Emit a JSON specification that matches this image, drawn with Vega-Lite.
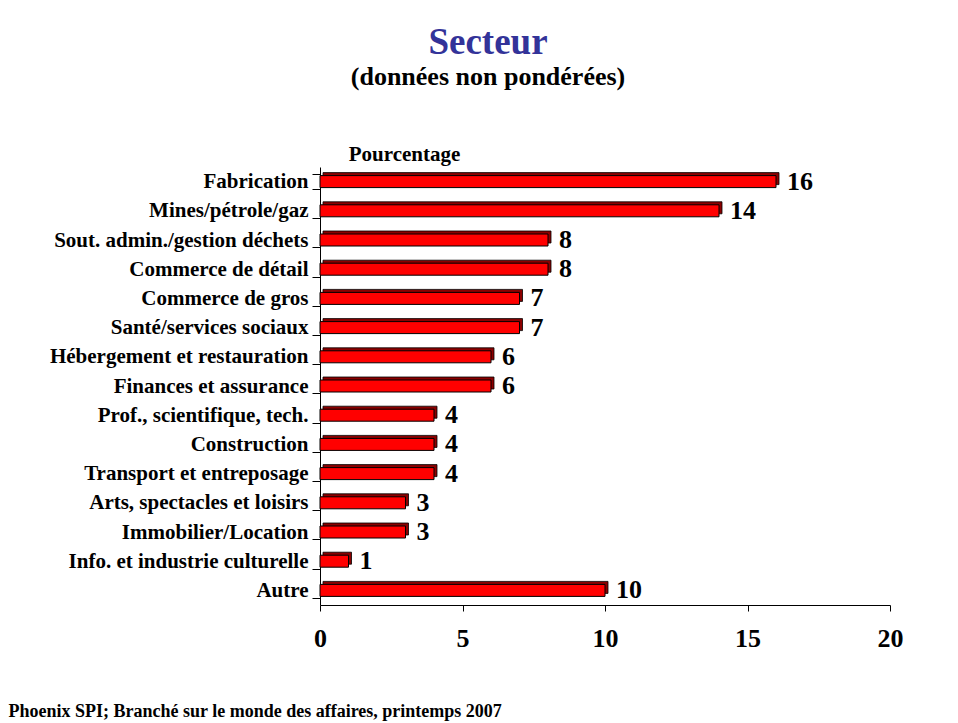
{
  "$schema": "https://vega.github.io/schema/vega-lite/v6.json",
  "width": 570,
  "height": 438,
  "autosize": "none",
  "padding": {"left": 320, "top": 167, "right": 68, "bottom": 118},
  "background": "white",
  "title": {
    "text": "Secteur",
    "subtitle": "(données non pondérées)",
    "font": "Liberation Serif",
    "fontSize": 37,
    "fontWeight": "bold",
    "color": "#333399",
    "subtitleFont": "Liberation Serif",
    "subtitleFontSize": 26,
    "subtitleFontWeight": "bold",
    "subtitleColor": "black",
    "subtitlePadding": 2,
    "anchor": "middle",
    "frame": "group",
    "dx": -117,
    "offset": 52
  },
  "config": {"view": {"stroke": null}},
  "data": {
    "values": [
      {"secteur": "Fabrication", "pct": 16},
      {"secteur": "Mines/pétrole/gaz", "pct": 14},
      {"secteur": "Sout. admin./gestion déchets", "pct": 8},
      {"secteur": "Commerce de détail", "pct": 8},
      {"secteur": "Commerce de gros", "pct": 7},
      {"secteur": "Santé/services sociaux", "pct": 7},
      {"secteur": "Hébergement et restauration", "pct": 6},
      {"secteur": "Finances et assurance", "pct": 6},
      {"secteur": "Prof., scientifique, tech.", "pct": 4},
      {"secteur": "Construction", "pct": 4},
      {"secteur": "Transport et entreposage", "pct": 4},
      {"secteur": "Arts, spectacles et loisirs", "pct": 3},
      {"secteur": "Immobilier/Location", "pct": 3},
      {"secteur": "Info. et industrie culturelle", "pct": 1},
      {"secteur": "Autre", "pct": 10}
    ]
  },
  "encoding": {
    "y": {
      "field": "secteur",
      "type": "nominal",
      "sort": null,
      "scale": {"paddingInner": 0.5, "paddingOuter": 0.25},
      "axis": {
        "title": "Pourcentage",
        "titleAngle": 0,
        "titleX": 84,
        "titleY": -7,
        "titleAlign": "center",
        "titleBaseline": "alphabetic",
        "titleFont": "Liberation Serif",
        "titleFontSize": 21,
        "titleFontWeight": "bold",
        "titleColor": "black",
        "labelFont": "Liberation Serif",
        "labelFontSize": 21,
        "labelFontWeight": "bold",
        "labelColor": "black",
        "labelPadding": 4,
        "tickSize": 8,
        "tickBand": "extent",
        "tickColor": "black",
        "domainColor": "black",
        "labelLimit": 400
      }
    },
    "x": {
      "field": "pct",
      "type": "quantitative",
      "scale": {"domain": [0, 20]},
      "axis": {
        "values": [0, 5, 10, 15, 20],
        "grid": false,
        "labelFlush": false,
        "title": "Phoenix SPI; Branché sur le monde des affaires, printemps 2007",
        "titleX": -312,
        "titleY": 111,
        "titleAlign": "left",
        "titleAnchor": "start",
        "titleBaseline": "alphabetic",
        "titleFont": "Liberation Serif",
        "titleFontSize": 18,
        "titleFontWeight": "bold",
        "titleColor": "black",
        "labelFont": "Liberation Serif",
        "labelFontSize": 26,
        "labelFontWeight": "bold",
        "labelColor": "black",
        "labelPadding": 14,
        "tickSize": 6,
        "tickColor": "black",
        "domainColor": "black"
      }
    }
  },
  "layer": [
    {
      "mark": {"type": "bar", "height": 12, "xOffset": 3, "yOffset": -3, "color": "#8B0000", "stroke": "black", "strokeWidth": 0.8}
    },
    {
      "mark": {"type": "bar", "height": 12, "color": "#FF0000", "stroke": "black", "strokeWidth": 1}
    },
    {
      "mark": {"type": "text", "align": "left", "baseline": "middle", "dx": 11, "font": "Liberation Serif", "fontSize": 26, "fontWeight": "bold", "color": "black"},
      "encoding": {"text": {"field": "pct", "type": "quantitative"}}
    }
  ]
}
